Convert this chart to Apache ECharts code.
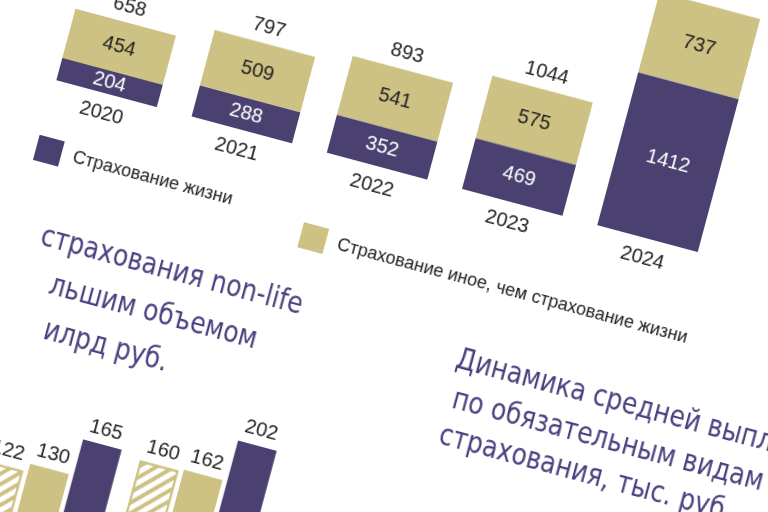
<!DOCTYPE html>
<html><head><meta charset="utf-8">
<script src="https://cdn.jsdelivr.net/npm/echarts@6/dist/echarts.min.js"></script>
<style>
html,body{margin:0;width:768px;height:512px;overflow:hidden;background:#fff;}
#main{position:absolute;left:-166px;top:-194px;width:1100px;height:900px;transform:rotate(15deg);}
</style></head>
<body><div id="main"></div>
<script>
// верхний график, млрд руб.
var years = ['2020', '2021', '2022', '2023', '2024'];
var life = [204, 288, 352, 469, 1412];
var nonLife = [454, 509, 541, 575, 737];
var totals = [658, 797, 893, 1044, 2149];

// нижний фрагмент
var groups = ['a', 'b'];
var hatched = [122, 160];
var beige = [130, 162];
var purple = [165, 202];

var PURPLE = '#4b4170';
var BEIGE = '#cdc184';
var TITLE = '#4a4080';
var font = 'DejaVu Sans Condensed';

function title(x, y, text, align) {
  return { type: 'text', x: x, y: y, scaleX: 0.9, originX: x, originY: y,
    style: { text: text, fontSize: 31, fill: TITLE, align: align, verticalAlign: 'middle', fontFamily: font } };
}

var option = {
  animation: false,
  backgroundColor: '#fff',
  textStyle: { fontFamily: 'Liberation Sans' },
  grid: [
    { left: 170, right: 230, top: 118, bottom: 535 },
    { left: 207, right: 593, top: 615, bottom: 20 }
  ],
  xAxis: [
    { gridIndex: 0, type: 'category', data: years, axisLine: { show: false }, axisTick: { show: false },
      axisLabel: { fontSize: 20, color: '#222', margin: 10 } },
    { gridIndex: 1, type: 'category', data: groups, show: false }
  ],
  yAxis: [
    { gridIndex: 0, type: 'value', min: 0, max: 2200, show: false },
    { gridIndex: 1, type: 'value', min: 0, max: 250, show: false }
  ],
  series: [
    { type: 'bar', stack: 's', data: life, barWidth: 104, itemStyle: { color: PURPLE },
      label: { show: true, color: '#fff', fontSize: 20 } },
    { type: 'bar', stack: 's', data: nonLife, itemStyle: { color: BEIGE },
      label: { show: true, color: '#222', fontSize: 20 } },
    { type: 'bar', data: totals, barGap: '-100%', barWidth: 104, z: 0, itemStyle: { color: 'rgba(0,0,0,0)' },
      label: { show: true, position: 'top', color: '#222', fontSize: 20, distance: 6 } },
    { type: 'bar', xAxisIndex: 1, yAxisIndex: 1, data: hatched, barWidth: 40, barGap: '12%',
      itemStyle: { color: '#fff', borderColor: BEIGE, borderWidth: 2,
        decal: { symbol: 'rect', color: BEIGE, dashArrayX: [1, 0], dashArrayY: [4, 5], rotation: -Math.PI / 4 } },
      label: { show: true, position: 'top', color: '#222', fontSize: 20 } },
    { type: 'bar', xAxisIndex: 1, yAxisIndex: 1, data: beige, barWidth: 40, itemStyle: { color: BEIGE },
      label: { show: true, position: 'top', color: '#222', fontSize: 20 } },
    { type: 'bar', xAxisIndex: 1, yAxisIndex: 1, data: purple, barWidth: 40, itemStyle: { color: PURPLE },
      label: { show: true, position: 'top', color: '#222', fontSize: 20 } }
  ],
  graphic: [
    { type: 'rect', shape: { x: 186, y: 422, width: 26, height: 26 }, style: { fill: PURPLE } },
    { type: 'text', x: 224, y: 435, style: { text: 'Страхование жизни', fontSize: 18, fill: '#222', verticalAlign: 'middle', fontFamily: 'Liberation Sans' } },
    { type: 'rect', shape: { x: 464, y: 438, width: 26, height: 26 }, style: { fill: BEIGE } },
    { type: 'text', x: 502, y: 451, style: { text: 'Страхование иное, чем страхование жизни', fontSize: 18, fill: '#222', verticalAlign: 'middle', fontFamily: 'Liberation Sans' } },
    title(440, 520, 'страхования non-life', 'right'),
    title(408, 565, 'льшим объемом', 'right'),
    title(335, 610, 'илрд руб.', 'right'),
    title(588, 531, 'Динамика средней выплаты', 'left'),
    title(594, 571, 'по обязательным видам', 'left'),
    title(591, 609, 'страхования, тыс. руб', 'left')
  ]
};

var myChart = echarts.init(document.getElementById('main'));
myChart.setOption(option);
</script>
</body></html>
